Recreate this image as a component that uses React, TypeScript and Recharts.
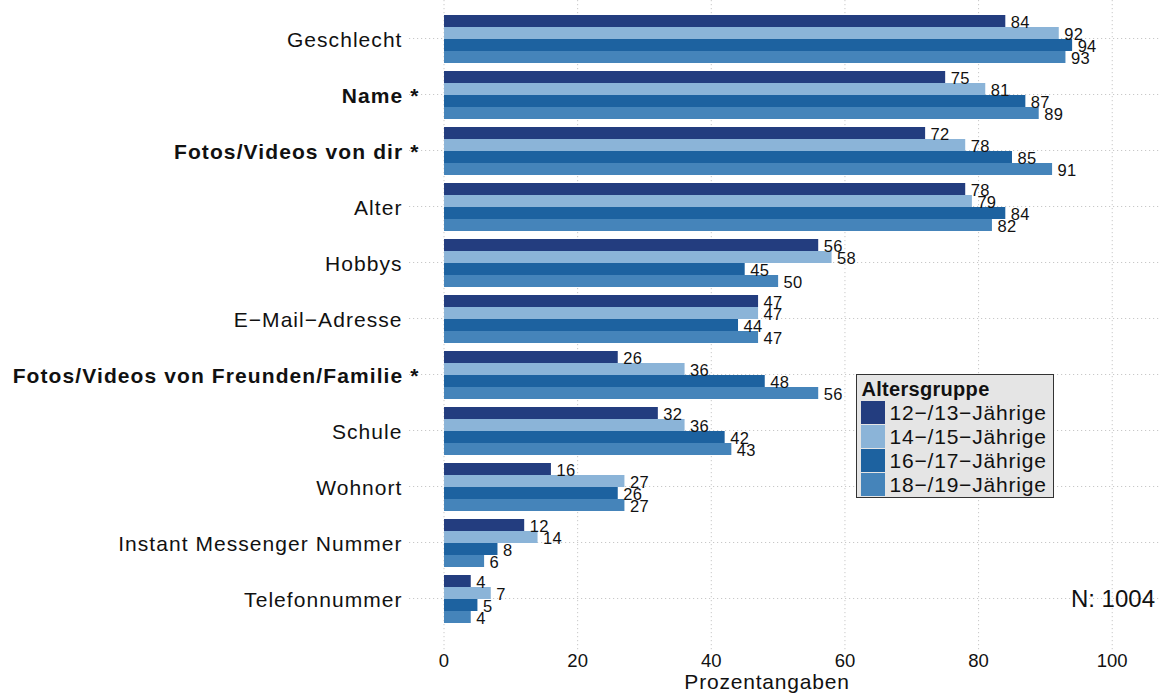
import React from 'react';
import {
  BarChart,
  Bar,
  XAxis,
  YAxis,
  CartesianGrid,
  Legend,
  LabelList,
} from 'recharts';

const FONT = '"Liberation Sans", Arial, Helvetica, sans-serif';

const CATEGORIES = [
  'Geschlecht',
  'Name *',
  'Fotos/Videos von dir *',
  'Alter',
  'Hobbys',
  'E\u2212Mail\u2212Adresse',
  'Fotos/Videos von Freunden/Familie *',
  'Schule',
  'Wohnort',
  'Instant Messenger Nummer',
  'Telefonnummer',
];
const BOLD_CATEGORIES = ['Name *', 'Fotos/Videos von dir *', 'Fotos/Videos von Freunden/Familie *'];

const AGE_12_13 = [84, 75, 72, 78, 56, 47, 26, 32, 16, 12, 4];
const AGE_14_15 = [92, 81, 78, 79, 58, 47, 36, 36, 27, 14, 7];
const AGE_16_17 = [94, 87, 85, 84, 45, 44, 48, 42, 26, 8, 5];
const AGE_18_19 = [93, 89, 91, 82, 50, 47, 56, 43, 27, 6, 4];

const SERIES = [
  { key: 'a', name: '12\u2212/13\u2212Jährige', color: '#233D7F', values: AGE_12_13 },
  { key: 'b', name: '14\u2212/15\u2212Jährige', color: '#8BB4D8', values: AGE_14_15 },
  { key: 'c', name: '16\u2212/17\u2212Jährige', color: '#1D62A0', values: AGE_16_17 },
  { key: 'd', name: '18\u2212/19\u2212Jährige', color: '#4584BA', values: AGE_18_19 },
];

const X_TICKS = [0, 20, 40, 60, 80, 100];

const data = CATEGORIES.map((name, i) => {
  const row: Record<string, string | number> = { name };
  SERIES.forEach((s) => {
    row[s.key] = s.values[i];
  });
  return row;
});

function CategoryTick(props: any) {
  const { y, payload } = props;
  const bold = BOLD_CATEGORIES.includes(payload.value);
  return (
    <text
      x={bold ? 419.5 : 402.5}
      y={y + 8}
      textAnchor="end"
      fontSize={21}
      fontWeight={bold ? 700 : 400}
      letterSpacing={bold ? 1.1 : 1.05}
      fontFamily={FONT}
      fill="#111"
    >
      {payload.value}
    </text>
  );
}

function ValueLabel(props: any) {
  const { x, y, width, height, value } = props;
  return (
    <text
      x={Number(x) + Number(width) + 5.5}
      y={Number(y) + Number(height) / 2 + 6.5}
      fontSize={16.5}
      letterSpacing={0.3}
      fontFamily={FONT}
      fill="#111"
    >
      {value}
    </text>
  );
}

function AgeLegend() {
  return (
    <div
      style={{
        position: 'relative',
        width: 198,
        height: 124,
        boxSizing: 'border-box',
        background: '#E5E5E5',
        border: '1.5px solid #333',
        fontFamily: FONT,
        color: '#111',
      }}
    >
      <div
        style={{
          position: 'absolute',
          left: 4.5,
          top: 3.5,
          fontSize: 20,
          lineHeight: '20px',
          fontWeight: 700,
          letterSpacing: 0.3,
          whiteSpace: 'nowrap',
        }}
      >
        Altersgruppe
      </div>
      {SERIES.map((s, i) => (
        <React.Fragment key={s.key}>
          <div
            style={{
              position: 'absolute',
              left: 3.5,
              top: 25.5 + i * 24,
              width: 24,
              height: 23,
              background: s.color,
            }}
          />
          <div
            style={{
              position: 'absolute',
              left: 32.5,
              top: 25.5 + i * 24,
              fontSize: 21,
              lineHeight: '24px',
              letterSpacing: 0.8,
              whiteSpace: 'nowrap',
            }}
          >
            {s.name}
          </div>
        </React.Fragment>
      ))}
    </div>
  );
}

export default function App() {
  return (
    <div style={{ position: 'absolute', left: 0, top: 0, width: 1161, height: 696, background: '#fff' }}>
      <BarChart
        layout="vertical"
        width={1161}
        height={696}
        data={data}
        margin={{ top: 0, right: 0, bottom: 0, left: 0 }}
        barCategoryGap={4.5}
        barGap={0}
      >
        <CartesianGrid stroke="#C8C8C8" strokeDasharray="1.2 2.8" syncWithTicks />
        <XAxis
          type="number"
          domain={[-5.24, 107.3]}
          ticks={X_TICKS}
          allowDataOverflow
          axisLine={false}
          tickLine={false}
          tickSize={0}
          tickMargin={4}
          height={46}
          tick={{ fontSize: 18.5, fill: '#111', fontFamily: FONT }}
        />
        <YAxis
          type="category"
          dataKey="name"
          width={409}
          axisLine={false}
          tickLine={false}
          interval={0}
          padding={{ top: 10.5, bottom: 23.5 }}
          tick={<CategoryTick />}
        />
        <Legend
          layout="vertical"
          align="center"
          verticalAlign="middle"
          content={() => <AgeLegend />}
          wrapperStyle={{ position: 'absolute', left: 856, top: 374, width: 198, height: 124 }}
        />
        {SERIES.map((s) => (
          <Bar key={s.key} dataKey={s.key} name={s.name} fill={s.color} isAnimationActive={false}>
            <LabelList dataKey={s.key} content={<ValueLabel />} />
          </Bar>
        ))}
      </BarChart>
      <svg
        width={1161}
        height={696}
        style={{ position: 'absolute', left: 0, top: 0, pointerEvents: 'none' }}
      >
        <text x={767} y={688.5} textAnchor="middle" fontSize={21} letterSpacing={0.8} fontFamily={FONT} fill="#111">
          Prozentangaben
        </text>
        <text x={1155} y={606.5} textAnchor="end" fontSize={24} fontFamily={FONT} fill="#111">
          N: 1004
        </text>
      </svg>
    </div>
  );
}
